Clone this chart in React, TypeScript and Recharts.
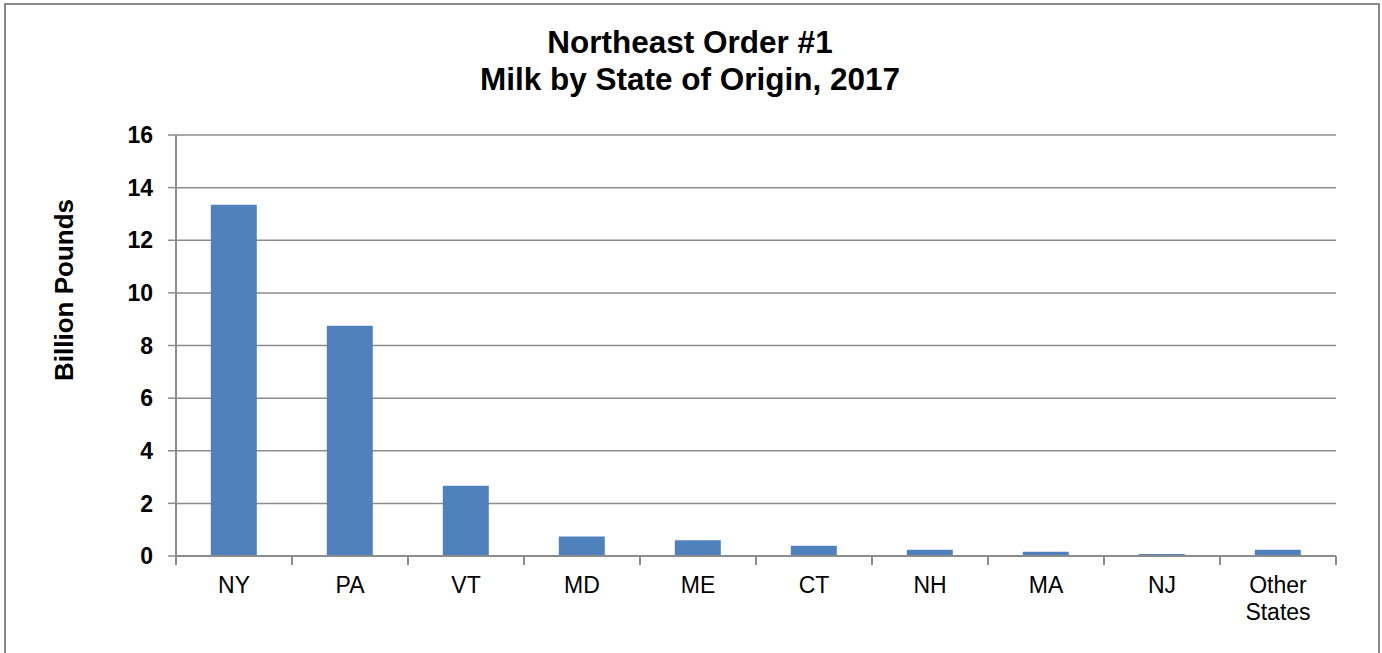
import React from 'react';
import { BarChart, Bar, XAxis, YAxis, CartesianGrid } from 'recharts';

const states = ['NY', 'PA', 'VT', 'MD', 'ME', 'CT', 'NH', 'MA', 'NJ', 'Other States'];
const milk = [13.35, 8.75, 2.67, 0.74, 0.6, 0.39, 0.24, 0.16, 0.08, 0.24];
const yTicks = [0, 2, 4, 6, 8, 10, 12, 14, 16];

const data = states.map((s, i) => ({ state: s, value: milk[i] }));

const W = 1382;
const H = 653;
const PLOT_LEFT = 176;
const PLOT_RIGHT = 1336;
const BAND = (PLOT_RIGHT - PLOT_LEFT) / states.length;
const FONT = 'Arial, "Liberation Sans", Helvetica, sans-serif';
const GRID = '#8c8c8c';

function StateTick(props: any) {
  const { x, y, payload, index } = props;
  const words = String(payload.value).split(' ');
  const left = x - BAND / 2;
  return (
    <g>
      <line x1={left} x2={left} y1={y - 8} y2={y + 1} stroke={GRID} strokeWidth={2} />
      {index === states.length - 1 && (
        <line x1={x + BAND / 2} x2={x + BAND / 2} y1={y - 8} y2={y + 1} stroke={GRID} strokeWidth={2} />
      )}
      <text x={x} y={y + 29} textAnchor="middle" fontSize={23} fontFamily={FONT} fill="#000">
        {words.map((w, i) => (
          <tspan key={i} x={x} dy={i === 0 ? 0 : 27}>
            {w}
          </tspan>
        ))}
      </text>
    </g>
  );
}

export default function App() {
  return (
    <div style={{ position: 'absolute', left: 0, top: 0, width: W, height: H, background: '#fff', overflow: 'hidden', fontFamily: FONT }}>
      <div style={{ position: 'absolute', left: 4, top: 3, width: 1372, height: 700, border: '2px solid #888' }} />
      <svg width={W} height={H} style={{ position: 'absolute', left: 0, top: 0 }}>
        <text x={690} y={53} textAnchor="middle" fontSize={31.5} fontWeight="bold" fontFamily={FONT} fill="#000">
          Northeast Order #1
        </text>
        <text x={690} y={90} textAnchor="middle" fontSize={31.5} fontWeight="bold" fontFamily={FONT} fill="#000">
          Milk by State of Origin, 2017
        </text>
        <text
          x={73}
          y={290}
          textAnchor="middle"
          fontSize={26}
          fontWeight="bold"
          fontFamily={FONT}
          fill="#000"
          transform="rotate(-90 73 290)"
        >
          Billion Pounds
        </text>
      </svg>
      <div style={{ position: 'absolute', left: 0, top: 0 }}>
        <BarChart
          width={W}
          height={H}
          data={data}
          margin={{ top: 135, right: W - PLOT_RIGHT, bottom: 0, left: 0 }}
          barCategoryGap="30%"
        >
          <CartesianGrid horizontal vertical={false} stroke={GRID} strokeWidth={1.5} />
          <XAxis
            dataKey="state"
            interval={0}
            height={97}
            tickLine={false}
            axisLine={{ stroke: GRID, strokeWidth: 2 }}
            tick={<StateTick />}
          />
          <YAxis
            width={PLOT_LEFT}
            domain={[0, 16]}
            ticks={yTicks}
            interval={0}
            tickSize={8}
            tickLine={{ stroke: GRID, strokeWidth: 1.5 }}
            axisLine={{ stroke: GRID, strokeWidth: 2 }}
            tick={{ fill: '#000', fontSize: 23, fontWeight: 'bold', fontFamily: FONT }}
            tickMargin={15}
          />
          <Bar dataKey="value" fill="#4f81bd" isAnimationActive={false} />
        </BarChart>
      </div>
    </div>
  );
}
